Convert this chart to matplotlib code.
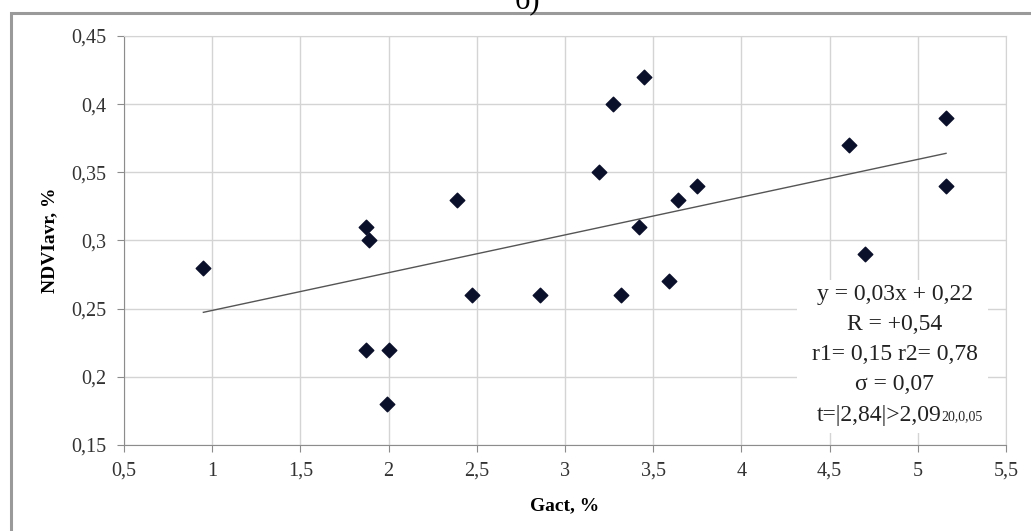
import numpy as np
import matplotlib
matplotlib.use('Agg')
import matplotlib.pyplot as plt
from matplotlib.patches import Rectangle

plt.rcParams['font.family'] = ['Liberation Serif', 'DejaVu Serif']

# values
gact = [0.95, 1.87, 1.89, 1.87, 2.00, 1.99, 2.39, 2.47, 2.86, 3.19, 3.27,
        3.45, 3.42, 3.32, 3.59, 3.64, 3.75, 4.61, 4.70, 5.16, 5.16]
ndvi = [0.28, 0.31, 0.30, 0.22, 0.22, 0.18, 0.33, 0.26, 0.26, 0.35, 0.40,
        0.42, 0.31, 0.26, 0.27, 0.33, 0.34, 0.37, 0.29, 0.39, 0.34]
trend_slope = 0.0277
trend_icept = 0.221
x_ticks = [0.5, 1, 1.5, 2, 2.5, 3, 3.5, 4, 4.5, 5, 5.5]
y_ticks = [0.15, 0.2, 0.25, 0.3, 0.35, 0.4, 0.45]
stats_lines = ['y = 0,03x + 0,22', 'R = +0,54', 'r1= 0,15 r2= 0,78',
               'σ = 0,07', 't=|2,84|>2,09']
stats_sub = '20,0,05'

fig = plt.figure(figsize=(10.31, 5.31), dpi=100)
ax = fig.add_axes([124/1031, 1 - 445/531, (1006-124)/1031, (445-36)/531])

# frame around the whole chart
fig.patches.append(Rectangle((11/1031, -0.01), 1.1, 1 - 13/531 + 0.01,
                             transform=fig.transFigure, fill=False,
                             edgecolor='#9a9a9a', linewidth=2.2))
fig.text(527/1031, 1.0, 'б)', ha='center', va='center', fontsize=22)

ax.grid(True, color='#d4d4d4', linewidth=1.0)
ax.set_axisbelow(True)
for s in ['top', 'right']:
    ax.spines[s].set_color('#d4d4d4')
for s in ['left', 'bottom']:
    ax.spines[s].set_color('#8c8c8c')

xs = np.array([min(gact), max(gact)])
ax.plot(xs, trend_slope * xs + trend_icept, color='#555555', linewidth=1.0, zorder=2)
ax.scatter(gact, ndvi, marker='D', s=55, color='#0a0f2a', zorder=3)

ax.set_xlim(0.5, 5.5)
ax.set_ylim(0.15, 0.45)
ax.set_xticks(x_ticks)
ax.set_yticks(y_ticks)
ax.set_xticklabels([('%g' % v).replace('.', ',') for v in x_ticks])
ax.set_yticklabels([('%g' % v).replace('.', ',') for v in y_ticks])
ax.tick_params(labelsize=14.5, colors='#8c8c8c', labelcolor='#333333', length=5)
ax.tick_params(axis='x', pad=7)
ax.tick_params(axis='y', pad=8)

ax.set_xlabel('Gact, %', fontsize=14, fontweight='bold', labelpad=12)
ax.set_ylabel('NDVIavr, %', fontsize=14, fontweight='bold', labelpad=9)

# statistics box
ax.add_patch(Rectangle((4.315, 0.1585), 1.083, 0.1125, facecolor='white',
                       edgecolor='none', zorder=2.5))
line_y = [0.2605, 0.2385, 0.2165, 0.1945, 0.1718]
for i, line in enumerate(stats_lines):
    t = ax.text(4.87, line_y[i], line, ha='center', va='center',
                fontsize=17, color='#222222', zorder=4)
    if i == len(stats_lines) - 1:
        t.set_x(4.78)
        ax.annotate(stats_sub, xy=(1, 0.12), xycoords=t, fontsize=10,
                    color='#222222', va='bottom', ha='left', zorder=4)

fig.savefig('out.png', dpi=100)
